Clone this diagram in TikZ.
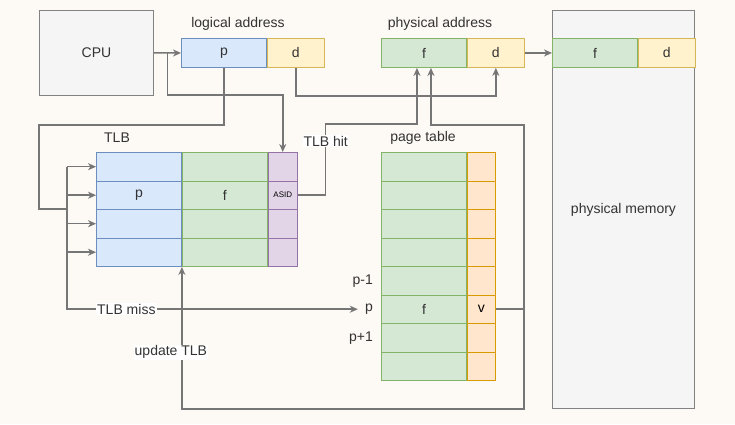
\documentclass[tikz,border=0pt]{standalone}
\usepackage{fontspec}
\setmainfont{Liberation Sans}
\usetikzlibrary{arrows.meta,positioning,calc}
\definecolor{bgcream}{RGB}{253,249,245}
\definecolor{txtgray}{RGB}{51,51,51}
\definecolor{wiregray}{RGB}{118,118,118}
\definecolor{boxfill}{RGB}{245,245,245}
\definecolor{boxline}{RGB}{130,130,130}
\definecolor{pfill}{HTML}{DAE8FC}
\definecolor{pline}{HTML}{6C8EBF}
\definecolor{ffill}{HTML}{D5E8D4}
\definecolor{fline}{HTML}{82B366}
\definecolor{dfill}{HTML}{FFF2CC}
\definecolor{dline}{HTML}{D6B656}
\definecolor{afill}{HTML}{E1D5E7}
\definecolor{aline}{HTML}{9673A6}
\definecolor{vfill}{HTML}{FFE6CC}
\definecolor{vline}{HTML}{D79B00}

\begin{document}
\begin{tikzpicture}[x=1pt, y=-1pt, font=\fontsize{14}{16}\selectfont,
  every node/.style={text=txtgray},
  cell/.style={draw, inner sep=0pt, anchor=north west, minimum height=28.5pt, line width=0.9pt},
  pcell/.style={cell, fill=pfill, draw=pline, minimum width=85pt},
  fcell/.style={cell, fill=ffill, draw=fline, minimum width=85pt},
  dcell/.style={cell, fill=dfill, draw=dline, minimum width=57pt},
  acell/.style={cell, fill=afill, draw=aline, minimum width=29pt},
  vcell/.style={cell, fill=vfill, draw=vline, minimum width=28pt},
  addr/.style={minimum height=29pt},
  greybox/.style={draw=boxline, fill=boxfill, inner sep=0pt, anchor=north west, line width=1pt},
  wire/.style={draw=wiregray, line width=1.5pt},
  arr/.style={wire, -{Stealth[length=8pt,width=7pt,inset=2.5pt]}},
  lbl/.style={fill=white, inner sep=1pt},
  rowlbl/.style={inner sep=1pt}]
  \fill[bgcream] (0,0) rectangle (735,424);

  % CPU and physical memory
  \node[greybox, minimum width=114pt, minimum height=85pt] (cpu) at (39,10) {CPU};
  \node[greybox, minimum width=142pt, minimum height=398pt] (mem) at (552,10) {physical memory};

  % addresses
  \node[pcell, addr] (pl) at (181,38) {p};
  \node[dcell, addr] (dl) at (pl.north east) {d};
  \node[fcell, addr] (fp) at (381,38) {f};
  \node[dcell, addr] (dp) at (fp.north east) {d};
  \node[fcell, addr] (fm) at (552,38) {f};
  \node[dcell, addr] (dm) at (fm.north east) {d};
  \node (lalbl) at (238,24) {logical address};
  \node (palbl) at (440,24) {physical address};

  % TLB
  \node (tlblbl) at (117,138) {TLB};
  \foreach \r/\pt/\ft/\at in {0/{}/{}/{},1/p/f/ASID,2/{}/{}/{},3/{}/{}/{}} {
    \node[pcell] (tlbp\r) at (96,152+28.5*\r) {\pt};
    \node[fcell] (tlbf\r) at (tlbp\r.north east) {\ft};
    \node[acell, font=\fontsize{8}{9}\selectfont, text=black] (tlba\r) at (tlbf\r.north east) {\at};
  }

  % page table
  \node (ptlbl) at (423,138) {page table};
  \foreach \r/\ft/\vt in {0/{}/{},1/{}/{},2/{}/{},3/{}/{},4/{}/{},5/f/v,6/{}/{},7/{}/{}} {
    \node[fcell] (ptf\r) at (381,152+28.5*\r) {\ft};
    \node[vcell, text=black] (ptv\r) at (ptf\r.north east) {\vt};
  }
  \node[rowlbl, left=7pt of ptf4] (rowpm) {p-1};
  \node[rowlbl, left=7pt of ptf5] (rowp) {p};
  \node[rowlbl, left=7pt of ptf6] (rowpp) {p+1};

  % connectors
  \draw[arr] (cpu) -- (pl);
  \coordinate (tap) at ($(cpu.east)!0.5!(pl.west)$);
  \draw[arr] (tap) -- ++(0,42) -| (tlba0.north);
  \coordinate (bus) at (67,209);
  \draw[wire] (pl.south) -- ++(0,57) -| ($(bus)+(-28,0)$) -- (bus);
  \foreach \r in {0,...,3} \draw[arr] (bus |- tlbp\r.west) -- (tlbp\r.west);
  \draw[arr, shorten >=6pt] (bus |- tlbp0.west) -- (bus |- rowp.west)
    -- node[lbl, pos=0.2] {TLB miss} (rowp.west);
  \draw[arr] (dl.south) -- ++(0,28) -| (dp.south);
  \draw[arr] (tlba1.east) -- ++(28,0) -- node[lbl, pos=0.76] {TLB hit} ++(0,-71)
    -| ($(fp.south)+(-7,0)$);
  \draw[arr] (ptv5.east) -- ++(28,0) |- ($(fp.south)+(7,57)$) -- ($(fp.south)+(7,0)$);
  \draw[arr] (ptv5.east) -- ++(28,0) |- (tlbf3.south west |- mem.south)
    -- node[lbl, pos=0.4, xshift=-11pt] {update TLB} (tlbf3.south west);
  \draw[arr] (dp) -- (fm);
\end{tikzpicture}
\end{document}
